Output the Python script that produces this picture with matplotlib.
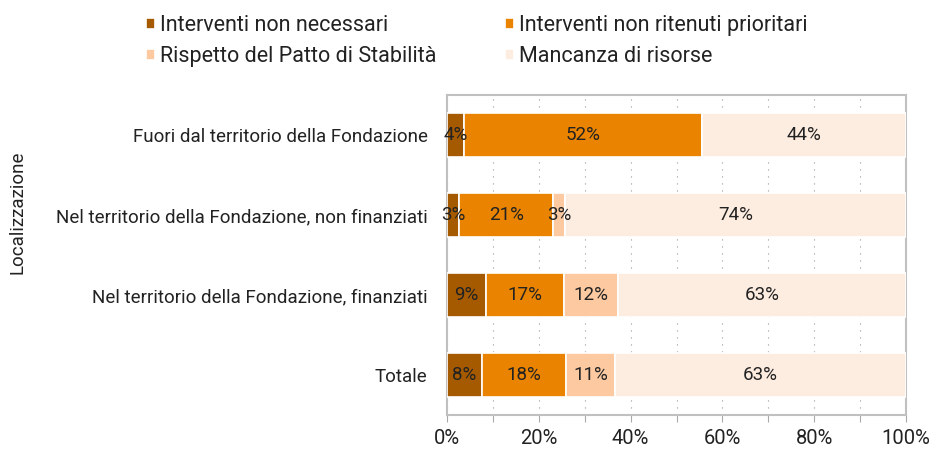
import matplotlib.pyplot as plt
import numpy as np

plt.rcParams['font.family'] = ['Roboto', 'DejaVu Sans']

# categories from bottom to top
categories = ['Totale',
              'Nel territorio della Fondazione, finanziati',
              'Nel territorio della Fondazione, non finanziati',
              'Fuori dal territorio della Fondazione']
series = ['Interventi non necessari', 'Interventi non ritenuti prioritari',
          'Rispetto del Patto di Stabilità', 'Mancanza di risorse']
non_necessari = [7.6, 8.6, 2.6, 3.6]
non_prioritari = [18.3, 16.8, 20.6, 52.0]
patto = [10.7, 11.9, 2.6, 0.0]
risorse = [63.4, 62.7, 74.2, 44.4]
colors = ['#A65A00', '#E98300', '#FCC9A0', '#FDECE0']

fig = plt.figure(figsize=(9.36, 4.5), dpi=100)
ax = fig.add_axes([447/936, 35/450, 459/936, 320/450])

y = np.arange(len(categories))
left = np.zeros(len(categories))
handles = []
for vals, name, col in zip([non_necessari, non_prioritari, patto, risorse], series, colors):
    vals = np.array(vals)
    bars = ax.barh(y, vals, left=left, height=0.54, color=col, edgecolor='white',
                   linewidth=1.2, label=name, zorder=3)
    handles.append(bars)
    for yi, v, l in zip(y, vals, left):
        if v > 0:
            ax.text(l + v/2, yi, f'{round(v):.0f}%', ha='center', va='center',
                    fontsize=13.5, color='#222222', zorder=4)
    left += vals

ax.set_xlim(0, 100)
ax.set_ylim(-0.5, 3.5)
ax.set_xticks(np.arange(0, 101, 10))
ax.set_xticklabels([f'{v}%' if v % 20 == 0 else '' for v in range(0, 101, 10)],
                   fontsize=14.5, color='#222222')
ax.set_yticks(y)
ax.set_yticklabels(categories, fontsize=13.5, color='#222222')
ax.tick_params(axis='y', length=0, pad=14)
ax.tick_params(axis='x', length=5, color='#aaaaaa', pad=5)
ax.grid(axis='x', linestyle=(0, (1, 5.3)), color='#999999', linewidth=0.8, zorder=0)
for s in ['left', 'top', 'right', 'bottom']:
    ax.spines[s].set_color('#c0c0c0')
    ax.spines[s].set_linewidth(1.5)

fig.text(18/936, 1 - 212/450, 'Localizzazione', rotation=90, ha='center', va='center',
         fontsize=13.5, color='#222222')

# matplotlib fills legend column by column, reorder to read row by row
order = [0, 2, 1, 3]
fig.legend(handles=[handles[i] for i in order], labels=[series[i] for i in order],
           ncol=2, loc='upper left',
           bbox_to_anchor=(127/936, 1.0 + 4/450), frameon=False, fontsize=15.5,
           handlelength=0.42, handleheight=0.42, handletextpad=0.23,
           columnspacing=3.15, labelspacing=0.45, labelcolor='#222222')

fig.savefig('out.png', dpi=100)
